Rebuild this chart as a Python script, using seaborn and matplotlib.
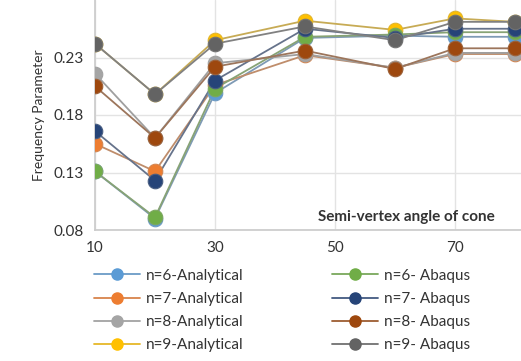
import matplotlib
matplotlib.use("Agg")
import matplotlib.pyplot as plt
import matplotlib.colors as mcolors
import seaborn as sns
import pandas as pd
import numpy as np

angles = [10, 20, 30, 45, 60, 70, 80]
n6_analytical = [0.131, 0.090, 0.199, 0.247, 0.249, 0.248, 0.248]
n7_analytical = [0.155, 0.131, 0.206, 0.232, 0.221, 0.233, 0.233]
n8_analytical = [0.216, 0.160, 0.225, 0.233, 0.221, 0.234, 0.234]
n9_analytical = [0.242, 0.198, 0.245, 0.262, 0.254, 0.264, 0.261]
n6_abaqus = [0.131, 0.091, 0.203, 0.248, 0.250, 0.252, 0.252]
n7_abaqus = [0.166, 0.123, 0.210, 0.255, 0.247, 0.255, 0.255]
n8_abaqus = [0.205, 0.160, 0.222, 0.236, 0.220, 0.238, 0.238]
n9_abaqus = [0.242, 0.198, 0.242, 0.257, 0.245, 0.261, 0.261]

series_names = ["n=6-Analytical", "n=7-Analytical", "n=8-Analytical", "n=9-Analytical",
                "n=6- Abaqus", "n=7- Abaqus", "n=8- Abaqus", "n=9- Abaqus"]
series_values = [n6_analytical, n7_analytical, n8_analytical, n9_analytical,
                 n6_abaqus, n7_abaqus, n8_abaqus, n9_abaqus]
colors = ["#5B9BD5", "#ED7D31", "#A5A5A5", "#FFC000",
          "#70AD47", "#264478", "#9E480E", "#636363"]


def grayish(c, f=0.55):
    rgb = np.array(mcolors.to_rgb(c))
    g = np.array(mcolors.to_rgb("#9a9a9a"))
    return tuple(rgb * (1 - f) + g * f)


rows = []
for name, vals in zip(series_names, series_values):
    for a, v in zip(angles, vals):
        rows.append({"angle": a, "value": v, "series": name})
df = pd.DataFrame(rows)

sns.set_theme(style="white")
plt.rcParams["font.family"] = ["Lato", "DejaVu Sans"]

fig = plt.figure(figsize=(5.21, 3.61), dpi=100)
ax = fig.add_axes([95 / 521, 131 / 361, 426 / 521, 230 / 361])

handles = []
for name, col in zip(series_names, colors):
    sub = df[df["series"] == name]
    sns.lineplot(data=sub, x="angle", y="value", ax=ax, color=grayish(col),
                 linewidth=1.3, legend=False, zorder=2)
    sns.scatterplot(data=sub, x="angle", y="value", ax=ax, color=col, s=110,
                    edgecolor=grayish(col, 0.3), linewidth=0.8, legend=False,
                    zorder=3)
    h, = ax.plot([], [], color=grayish(col, 0.25), marker="o", markersize=8,
                 markerfacecolor=col, markeredgecolor=col, linewidth=1.3)
    handles.append(h)

ax.set_xlim(10, 81)
ax.set_ylim(0.08, 0.28)
ax.set_xticks([10, 30, 50, 70])
ax.set_yticks([0.08, 0.13, 0.18, 0.23])
ax.set_yticklabels(["0.08", "0.13", "0.18", "0.23"])
ax.grid(True, color="#e3e3e3", linewidth=1.0)
ax.set_axisbelow(True)
for s in ["top", "right"]:
    ax.spines[s].set_visible(False)
ax.spines["left"].set_color("#cccccc")
ax.spines["bottom"].set_color("#cccccc")
ax.tick_params(axis="both", length=0, labelsize=11, colors="#333333", pad=8)
ax.set_xlabel("")
ax.set_ylabel("Frequency Parameter", fontsize=10, color="#333333", labelpad=6)
ax.text(0.73, 0.055, "Semi-vertex angle of cone", transform=ax.transAxes,
        ha="center", va="center", fontsize=11, fontweight="bold", color="#333333")

fig.legend(handles, series_names, ncol=2, loc="upper left",
           bbox_to_anchor=(80 / 521, 1 - 255 / 361), frameon=False,
           fontsize=11, handlelength=3.0, labelspacing=0.6,
           columnspacing=5.8, handletextpad=0.4, labelcolor="#333333")

fig.savefig("out.png", dpi=100)
